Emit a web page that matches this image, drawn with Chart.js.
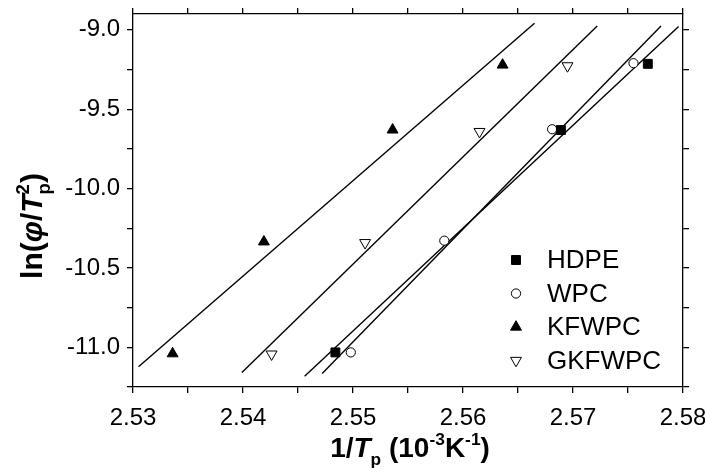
<!DOCTYPE html>
<html>
<head>
<meta charset="utf-8">
<script src="https://cdn.jsdelivr.net/npm/chart.js@4.4.1/dist/chart.umd.min.js"></script>
<style>
  html, body { margin: 0; padding: 0; background: #fff; }
  #wrap { width: 705px; height: 475px; position: relative; }
</style>
</head>
<body>
<div id="wrap"><canvas id="c" width="705" height="475"></canvas></div>
<script>
// ---- data ----
const seriesNames = ['HDPE', 'WPC', 'KFWPC', 'GKFWPC'];

const hdpeX = [2.5484, 2.5689, 2.5768];
const hdpeY = [-11.032, -9.631, -9.214];

const wpcX = [2.5498, 2.5583, 2.5681, 2.5755];
const wpcY = [-11.032, -10.328, -9.626, -9.210];

const kfwpcX = [2.5336, 2.5419, 2.5536, 2.5636];
const kfwpcY = [-11.040, -10.335, -9.630, -9.221];

const gkfwpcX = [2.5426, 2.5511, 2.5615, 2.5695];
const gkfwpcY = [-11.043, -10.341, -9.641, -9.227];

// linear-fit lines (end points)
const hdpeFitX = [2.5456, 2.5796];
const hdpeFitY = [-11.182, -8.979];
const wpcFitX = [2.5472, 2.5780];
const wpcFitY = [-11.165, -8.975];
const kfwpcFitX = [2.5305, 2.5665];
const kfwpcFitY = [-11.123, -8.958];
const gkfwpcFitX = [2.5399, 2.5722];
const gkfwpcFitY = [-11.158, -8.975];

// axes
const xMin = 2.53, xMax = 2.58, xStep = 0.005;
const yMin = -11.25, yMax = -8.9, yStep = 0.25;

// ---- helpers ----
const FONT = '"Liberation Sans", Arial, Helvetica, sans-serif';
function pts(xs, ys) { return xs.map((x, i) => ({ x: x, y: ys[i] })); }

const markerStyles = [
  { pointStyle: 'rect', radius: 6.3, bg: '#000', rot: 0 },
  { pointStyle: 'circle', radius: 4.6, bg: '#fff', rot: 0 },
  { pointStyle: 'triangle', radius: 6.3, bg: '#000', rot: 0 },
  { pointStyle: 'triangle', radius: 6.3, bg: '#fff', rot: 180 }
];
const pointSets = [pts(hdpeX, hdpeY), pts(wpcX, wpcY), pts(kfwpcX, kfwpcY), pts(gkfwpcX, gkfwpcY)];
const fitSets = [pts(hdpeFitX, hdpeFitY), pts(wpcFitX, wpcFitY), pts(kfwpcFitX, kfwpcFitY), pts(gkfwpcFitX, gkfwpcFitY)];

const datasets = [];
seriesNames.forEach((n, i) => {
  const m = markerStyles[i];
  datasets.push({
    label: n, isMarker: true, mIndex: i, data: pointSets[i], showLine: false, order: 0,
    pointStyle: m.pointStyle, pointRadius: m.radius, pointHoverRadius: m.radius,
    pointRotation: m.rot, pointBackgroundColor: m.bg, pointBorderColor: '#000', pointBorderWidth: 1
  });
});
seriesNames.forEach((n, i) => {
  datasets.push({
    label: n + ' fit', isMarker: false, data: fitSets[i], showLine: true, order: 1,
    borderColor: '#000', borderWidth: 1.4, pointRadius: 0, fill: false, tension: 0
  });
});

function drawRich(ctx, segs, size) {
  let total = 0;
  const items = segs.map(s => {
    const fs = s.small ? size * 0.62 : size;
    const f = (s.italic ? 'italic ' : '') + 'bold ' + fs + 'px ' + FONT;
    ctx.font = f;
    const w = ctx.measureText(s.t).width;
    return { s, f, w };
  });
  items.forEach(it => { if (!it.s.stack) total += it.w; });
  let x = -total / 2;
  let last = 0;
  items.forEach(it => {
    ctx.font = it.f;
    let dy = 0;
    if (it.s.sub) dy = size * 0.28;
    if (it.s.sup) dy = -size * 0.42;
    const xx = it.s.stack ? x - last : x;
    ctx.fillText(it.s.t, xx, dy);
    if (!it.s.stack) { x += it.w; last = it.w; }
  });
}

const decor = {
  id: 'decor',
  afterDraw(chart) {
    const ctx = chart.ctx;
    ctx.save();
    ctx.fillStyle = '#000';
    ctx.textAlign = 'left';
    ctx.textBaseline = 'alphabetic';
    // y title
    ctx.save();
    ctx.translate(42, 226);
    ctx.rotate(-Math.PI / 2);
    drawRich(ctx, [
      { t: 'ln(' }, { t: '\u03C6', italic: true }, { t: '/' }, { t: 'T', italic: true },
      { t: 'p', small: true, sub: true }, { t: '2', small: true, sup: true, stack: true }, { t: ')' }
    ], 30);
    ctx.restore();
    // x title
    ctx.save();
    ctx.translate(410, 457);
    drawRich(ctx, [
      { t: '1/' }, { t: 'T', italic: true }, { t: 'p', small: true, sub: true }, { t: ' (10' },
      { t: '-3', small: true, sup: true }, { t: 'K' }, { t: '-1', small: true, sup: true }, { t: ')' }
    ], 28);
    ctx.restore();
    // legend
    const rows = [260, 293.5, 327, 360.5];
    chart.data.datasets.filter(d => d.isMarker).forEach((d, i) => {
      const m = markerStyles[d.mIndex];
      ctx.save();
      ctx.fillStyle = m.bg;
      ctx.strokeStyle = '#000';
      ctx.lineWidth = 1;
      Chart.helpers.drawPoint(ctx, { pointStyle: m.pointStyle, rotation: m.rot, radius: m.radius, borderWidth: 1 }, 516, rows[i]);
      ctx.restore();
      ctx.font = '26px ' + FONT;
      ctx.textBaseline = 'middle';
      ctx.fillStyle = '#000';
      ctx.fillText(d.label, 547, rows[i] + 1);
    });
    ctx.restore();
  }
};

function xLabel(v) { return Math.abs(Math.round(v * 1000) % 10) === 0 ? v.toFixed(2) : ''; }
function yLabel(v) { return Math.abs(Math.round(v * 100) % 50) === 0 ? v.toFixed(1) : ''; }
function noPad(s) { s.paddingTop = 0; s.paddingBottom = 0; s.paddingLeft = 0; s.paddingRight = 0; }

const gridOpt = { display: true, drawOnChartArea: false, drawTicks: true, tickLength: 6, color: '#000', lineWidth: 1.3 };
const borderOpt = { display: true, color: '#000', width: 1.3 };
const tickFont = { family: FONT, size: 24 };

new Chart(document.getElementById('c'), {
  type: 'scatter',
  data: { datasets: datasets },
  options: {
    responsive: false, animation: false, devicePixelRatio: 1,
    layout: { padding: 0 },
    plugins: { legend: { display: false }, tooltip: { enabled: false } },
    scales: {
      x: {
        type: 'linear', position: 'bottom', min: xMin, max: xMax,
        ticks: { stepSize: xStep, callback: xLabel, font: tickFont, color: '#000', autoSkip: false, maxRotation: 0, padding: 11, includeBounds: false },
        grid: gridOpt, border: borderOpt,
        afterFit(s) { s.height = 88; noPad(s); }
      },
      xTop: {
        type: 'linear', position: 'top', min: xMin, max: xMax,
        ticks: { stepSize: xStep, callback: () => '', autoSkip: false, maxRotation: 0, includeBounds: false },
        grid: gridOpt, border: borderOpt,
        afterFit(s) { s.height = 14; noPad(s); }
      },
      y: {
        type: 'linear', position: 'left', min: yMin, max: yMax,
        ticks: { stepSize: yStep, callback: yLabel, font: tickFont, color: '#000', autoSkip: false, padding: 7, includeBounds: false },
        grid: gridOpt, border: borderOpt,
        afterFit(s) { s.width = 133; noPad(s); }
      },
      yRight: {
        type: 'linear', position: 'right', min: yMin, max: yMax,
        ticks: { stepSize: yStep, callback: () => '', autoSkip: false, includeBounds: false },
        grid: gridOpt, border: borderOpt,
        afterFit(s) { s.width = 22; noPad(s); }
      }
    }
  },
  plugins: [decor]
});
</script>
</body>
</html>
